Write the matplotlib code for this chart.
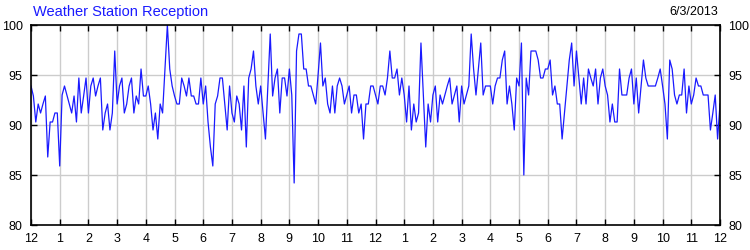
import numpy as np
import matplotlib
matplotlib.use("Agg")
import matplotlib.pyplot as plt

plt.rcParams['font.family'] = ['Liberation Sans', 'DejaVu Sans']

# reception %, sampled every 5 minutes from midnight to midnight (one row per hour)
reception = [
    93.9, 92.9, 90.3, 92.1, 91.2, 92.1, 92.9, 86.8, 90.3, 90.3, 91.2, 91.2,
    85.9, 93.0, 93.9, 93.0, 92.1, 91.2, 92.9, 90.3, 94.7, 91.2, 92.9, 94.7,
    91.2, 93.9, 94.7, 92.9, 93.9, 94.7, 89.5, 91.2, 92.1, 89.5, 91.2, 97.4,
    92.1, 93.9, 94.7, 91.2, 92.1, 93.9, 94.7, 91.2, 92.9, 92.1, 95.6, 92.9,
    92.9, 93.9, 92.1, 89.5, 91.2, 88.6, 92.1, 91.2, 95.6, 100.0, 95.6, 93.9,
    92.9, 92.1, 92.1, 94.7, 93.9, 92.9, 94.7, 92.9, 92.9, 92.1, 92.1, 94.7,
    92.1, 93.9, 90.3, 87.8, 85.9, 92.1, 92.9, 94.7, 94.7, 92.1, 89.5, 93.9,
    91.2, 90.3, 92.9, 92.1, 89.5, 93.9, 87.8, 94.7, 95.6, 97.4, 93.9, 92.1,
    93.9, 91.2, 88.6, 93.9, 99.1, 92.9, 94.7, 95.6, 91.2, 94.7, 94.7, 92.9,
    95.6, 93.0, 84.2, 97.4, 99.1, 99.1, 95.6, 95.6, 93.9, 93.9, 93.0, 92.1,
    95.0, 98.2, 93.9, 94.7, 92.1, 91.2, 93.9, 91.2, 93.9, 94.7, 93.9, 92.1,
    93.0, 93.9, 91.2, 93.0, 93.0, 91.2, 92.1, 88.6, 92.1, 92.1, 93.9, 93.9,
    93.0, 92.1, 93.9, 93.9, 93.0, 94.7, 97.4, 94.7, 94.7, 95.6, 93.0, 94.7,
    93.0, 90.3, 93.9, 89.5, 92.1, 90.3, 91.2, 98.2, 93.0, 87.8, 92.1, 90.3,
    93.0, 93.9, 90.3, 93.0, 92.1, 93.0, 93.9, 94.7, 92.1, 93.0, 93.9, 90.3,
    93.9, 92.1, 93.0, 93.9, 99.1, 95.6, 93.0, 95.6, 98.2, 93.0, 93.9, 93.9,
    93.9, 92.1, 93.9, 94.7, 94.7, 96.5, 97.4, 92.1, 93.9, 92.1, 89.5, 94.7,
    93.9, 98.2, 85.0, 94.7, 93.0, 97.4, 97.4, 97.4, 96.5, 94.7, 94.7, 95.6,
    95.6, 96.5, 93.0, 93.9, 92.1, 92.1, 88.6, 91.2, 93.9, 96.5, 98.2, 93.9,
    97.4, 94.7, 92.1, 94.7, 92.1, 95.6, 94.7, 93.9, 95.6, 92.1, 94.7, 95.6,
    93.9, 93.0, 90.3, 92.1, 90.3, 90.3, 95.6, 93.0, 93.0, 93.0, 94.7, 95.6,
    92.1, 94.7, 91.2, 93.9, 96.5, 94.7, 93.9, 93.9, 93.9, 93.9, 94.7, 95.6,
    93.9, 92.1, 88.6, 96.5, 95.6, 93.0, 92.1, 93.0, 93.0, 95.6, 91.2, 93.9,
    92.1, 93.0, 94.7, 93.9, 93.9, 93.0, 93.0, 93.0, 89.5, 91.2, 93.0, 88.6,
    92.1,
]
hour_labels = ['12', '1', '2', '3', '4', '5', '6', '7', '8', '9', '10', '11',
               '12', '1', '2', '3', '4', '5', '6', '7', '8', '9', '10', '11', '12']
y_ticks = [80, 85, 90, 95, 100]
title = 'Weather Station Reception'
date_text = '6/3/2013'

hours = np.arange(len(reception)) / 12.0

fig = plt.figure(figsize=(7.5, 2.5), dpi=100)
ax = fig.add_axes([31 / 750, 25 / 250, 689 / 750, 200 / 250])

ax.plot(hours, reception, color='#1a1aff', linewidth=0.9)

ax.set_xlim(0, 24)
ax.set_ylim(80, 100)
ax.set_xticks(range(25))
ax.set_xticklabels(hour_labels)
ax.set_yticks(y_ticks)
ax.grid(True, color='#cccccc', linewidth=1.0)
ax.set_axisbelow(True)

ax.tick_params(direction='in', length=4, width=1, top=True, right=True,
               labelright=True, labelsize=9, colors='black')
ax.tick_params(axis='x', pad=6)
ax.tick_params(axis='y', pad=6)
for sp in ax.spines.values():
    sp.set_linewidth(1.2)

fig.text(33 / 750, 1 - 12 / 250, title, color='#1a1aff', fontsize=10.5,
         ha='left', va='center')
fig.text(718 / 750, 1 - 12 / 250, date_text, color='black', fontsize=9,
         ha='right', va='center')

fig.savefig('out.png', dpi=100)
